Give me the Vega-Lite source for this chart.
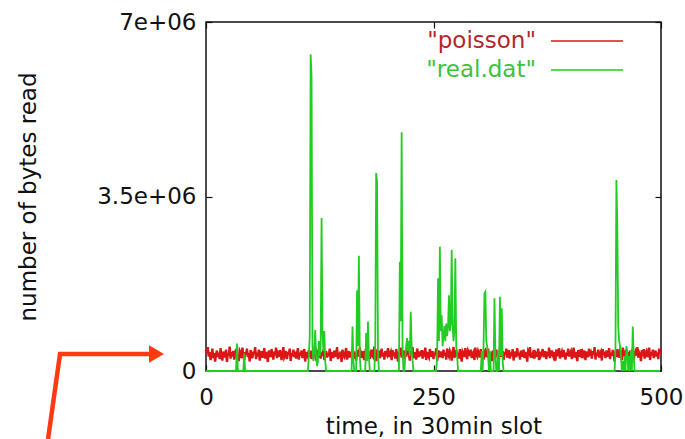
{
"$schema": "https://vega.github.io/schema/vega-lite/v6.json",
"width": 455, "height": 349,
"autosize": {"type": "none"},
"padding": {"left": 206, "top": 22, "right": 24, "bottom": 68},
"background": "white",
"config": {
  "view": {"stroke": "#111", "strokeWidth": 1.5},
  "font": "DejaVu Sans",
  "axis": {"labelFont": "DejaVu Sans", "titleFont": "DejaVu Sans", "labelFontSize": 23, "titleFontSize": 23, "titleFontWeight": "normal", "labelColor": "#111", "titleColor": "#111", "grid": false, "domain": false, "tickColor": "#111", "tickSize": -6, "tickWidth": 1.2, "labelFlush": false}
},
"datasets": {
"main": [
{"t":0,"poisson":4.2e5,"real":0},{"t":1,"poisson":3.5e5,"real":0},{"t":2,"poisson":4.8e5,"real":0},{"t":3,"poisson":2.9e5,"real":0},{"t":4,"poisson":3.8e5,"real":0},{"t":5,"poisson":2.2e5,"real":0},{"t":6,"poisson":3.1e5,"real":0},{"t":7,"poisson":4.5e5,"real":0},{"t":8,"poisson":2.6e5,"real":0},{"t":9,"poisson":3.6e5,"real":0},
{"t":10,"poisson":1.9e5,"real":0},{"t":11,"poisson":3.3e5,"real":0},{"t":12,"poisson":4.1e5,"real":0},{"t":13,"poisson":2.8e5,"real":0},{"t":14,"poisson":3.7e5,"real":0},{"t":15,"poisson":2.4e5,"real":0},{"t":16,"poisson":4.6e5,"real":0},{"t":17,"poisson":3.0e5,"real":0},{"t":18,"poisson":2.1e5,"real":0},{"t":19,"poisson":3.9e5,"real":0},
{"t":20,"poisson":3.4e5,"real":0},{"t":21,"poisson":2.7e5,"real":0},{"t":22,"poisson":4.3e5,"real":0},{"t":23,"poisson":1.8e5,"real":0},{"t":24,"poisson":3.6e5,"real":0},{"t":25,"poisson":3.1e5,"real":0},{"t":26,"poisson":4.9e5,"real":0},{"t":27,"poisson":2.5e5,"real":0},{"t":28,"poisson":3.8e5,"real":0},{"t":29,"poisson":2.9e5,"real":0},
{"t":30,"poisson":4.0e5,"real":0},{"t":31,"poisson":2.3e5,"real":0},{"t":32,"poisson":3.5e5,"real":0},{"t":33,"poisson":4.4e5,"real":0},{"t":34,"poisson":2.7e5,"real":5.5e5},{"t":35,"poisson":3.2e5,"real":0},{"t":36,"poisson":2.0e5,"real":0},{"t":37,"poisson":4.1e5,"real":0},{"t":38,"poisson":3.7e5,"real":0},{"t":39,"poisson":2.6e5,"real":0},
{"t":40,"poisson":4.7e5,"real":0},{"t":41,"poisson":3.0e5,"real":0},{"t":42,"poisson":2.2e5,"real":3.5e5},{"t":43,"poisson":3.8e5,"real":0},{"t":44,"poisson":3.3e5,"real":0},{"t":45,"poisson":4.5e5,"real":0},{"t":46,"poisson":2.8e5,"real":0},{"t":47,"poisson":3.6e5,"real":0},{"t":48,"poisson":1.9e5,"real":0},{"t":49,"poisson":4.2e5,"real":0},
{"t":50,"poisson":3.1e5,"real":0},{"t":51,"poisson":2.6e5,"real":0},{"t":52,"poisson":3.9e5,"real":0},{"t":53,"poisson":3.4e5,"real":0},{"t":54,"poisson":4.8e5,"real":0},{"t":55,"poisson":2.4e5,"real":0},{"t":56,"poisson":3.7e5,"real":0},{"t":57,"poisson":2.9e5,"real":0},{"t":58,"poisson":4.3e5,"real":0},{"t":59,"poisson":2.1e5,"real":0},
{"t":60,"poisson":3.5e5,"real":0},{"t":61,"poisson":4.0e5,"real":0},{"t":62,"poisson":2.7e5,"real":0},{"t":63,"poisson":3.2e5,"real":0},{"t":64,"poisson":4.6e5,"real":0},{"t":65,"poisson":2.5e5,"real":0},{"t":66,"poisson":3.8e5,"real":0},{"t":67,"poisson":3.0e5,"real":0},{"t":68,"poisson":1.8e5,"real":0},{"t":69,"poisson":4.1e5,"real":0},
{"t":70,"poisson":3.6e5,"real":0},{"t":71,"poisson":2.8e5,"real":0},{"t":72,"poisson":4.4e5,"real":0},{"t":73,"poisson":3.3e5,"real":0},{"t":74,"poisson":2.3e5,"real":0},{"t":75,"poisson":3.9e5,"real":0},{"t":76,"poisson":3.1e5,"real":0},{"t":77,"poisson":4.7e5,"real":0},{"t":78,"poisson":2.6e5,"real":0},{"t":79,"poisson":3.4e5,"real":0},
{"t":80,"poisson":2.9e5,"real":0},{"t":81,"poisson":4.2e5,"real":0},{"t":82,"poisson":3.7e5,"real":0},{"t":83,"poisson":2.2e5,"real":0},{"t":84,"poisson":3.5e5,"real":0},{"t":85,"poisson":4.8e5,"real":0},{"t":86,"poisson":2.7e5,"real":0},{"t":87,"poisson":3.1e5,"real":0},{"t":88,"poisson":4.0e5,"real":0},{"t":89,"poisson":2.4e5,"real":0},
{"t":90,"poisson":3.8e5,"real":0},{"t":91,"poisson":3.3e5,"real":0},{"t":92,"poisson":4.5e5,"real":0},{"t":93,"poisson":2.0e5,"real":0},{"t":94,"poisson":3.6e5,"real":0},{"t":95,"poisson":3.0e5,"real":0},{"t":96,"poisson":4.3e5,"real":0},{"t":97,"poisson":2.8e5,"real":0},{"t":98,"poisson":3.9e5,"real":0},{"t":99,"poisson":2.5e5,"real":0},
{"t":100,"poisson":3.4e5,"real":0},{"t":101,"poisson":4.6e5,"real":0},{"t":102,"poisson":2.3e5,"real":0},{"t":103,"poisson":3.7e5,"real":0},{"t":104,"poisson":3.1e5,"real":0},{"t":105,"poisson":4.1e5,"real":0},{"t":106,"poisson":2.6e5,"real":0},{"t":107,"poisson":3.5e5,"real":0},{"t":108,"poisson":4.4e5,"real":0},{"t":109,"poisson":1.9e5,"real":0},
{"t":110,"poisson":3.8e5,"real":0},{"t":111,"poisson":3.0e5,"real":0},{"t":112,"poisson":2.7e5,"real":0},{"t":113,"poisson":4.2e5,"real":3e5},{"t":114,"poisson":3.3e5,"real":7e5},{"t":115,"poisson":3.6e5,"real":6.35e6},{"t":116,"poisson":2.4e5,"real":5.9e6},{"t":117,"poisson":4.0e5,"real":5e5},{"t":118,"poisson":2.9e5,"real":2e5},{"t":119,"poisson":4.5e5,"real":4e5},
{"t":120,"poisson":3.2e5,"real":8.2e5},{"t":121,"poisson":2.1e5,"real":3e5},{"t":122,"poisson":3.9e5,"real":1e5},{"t":123,"poisson":3.5e5,"real":2e5},{"t":124,"poisson":2.8e5,"real":6e5},{"t":125,"poisson":4.7e5,"real":3e5},{"t":126,"poisson":2.5e5,"real":5e5},{"t":127,"poisson":3.7e5,"real":3.07e6},{"t":128,"poisson":3.1e5,"real":7.8e5},{"t":129,"poisson":4.3e5,"real":4e5},
{"t":130,"poisson":2.2e5,"real":8e5},{"t":131,"poisson":3.4e5,"real":2e5},{"t":132,"poisson":4.0e5,"real":0},{"t":133,"poisson":2.7e5,"real":0},{"t":134,"poisson":3.6e5,"real":0},{"t":135,"poisson":3.0e5,"real":0},{"t":136,"poisson":4.5e5,"real":0},{"t":137,"poisson":2.0e5,"real":0},{"t":138,"poisson":3.8e5,"real":0},{"t":139,"poisson":3.3e5,"real":0},
{"t":140,"poisson":2.6e5,"real":0},{"t":141,"poisson":4.1e5,"real":0},{"t":142,"poisson":3.5e5,"real":0},{"t":143,"poisson":2.9e5,"real":0},{"t":144,"poisson":4.8e5,"real":0},{"t":145,"poisson":2.4e5,"real":0},{"t":146,"poisson":3.7e5,"real":0},{"t":147,"poisson":3.2e5,"real":0},{"t":148,"poisson":3.9e5,"real":0},{"t":149,"poisson":1.8e5,"real":0},
{"t":150,"poisson":4.3e5,"real":0},{"t":151,"poisson":3.1e5,"real":0},{"t":152,"poisson":2.8e5,"real":0},{"t":153,"poisson":3.6e5,"real":0},{"t":154,"poisson":4.6e5,"real":0},{"t":155,"poisson":2.3e5,"real":0},{"t":156,"poisson":3.4e5,"real":0},{"t":157,"poisson":4.0e5,"real":0},{"t":158,"poisson":2.7e5,"real":0},{"t":159,"poisson":3.8e5,"real":0},
{"t":160,"poisson":3.0e5,"real":0},{"t":161,"poisson":4.4e5,"real":8.9e5},{"t":162,"poisson":2.5e5,"real":2e5},{"t":163,"poisson":3.6e5,"real":0},{"t":164,"poisson":3.3e5,"real":0},{"t":165,"poisson":2.1e5,"real":0},{"t":166,"poisson":4.2e5,"real":1.62e6},{"t":167,"poisson":3.7e5,"real":5e5},{"t":168,"poisson":2.9e5,"real":2.31e6},{"t":169,"poisson":4.7e5,"real":3e5},
{"t":170,"poisson":2.6e5,"real":0},{"t":171,"poisson":3.5e5,"real":0},{"t":172,"poisson":3.1e5,"real":0},{"t":173,"poisson":4.0e5,"real":0},{"t":174,"poisson":2.2e5,"real":0},{"t":175,"poisson":3.8e5,"real":0},{"t":176,"poisson":4.5e5,"real":7.6e5},{"t":177,"poisson":2.8e5,"real":2e5},{"t":178,"poisson":3.4e5,"real":9.9e5},{"t":179,"poisson":3.9e5,"real":3e5},
{"t":180,"poisson":2.4e5,"real":0},{"t":181,"poisson":3.6e5,"real":0},{"t":182,"poisson":4.3e5,"real":0},{"t":183,"poisson":3.0e5,"real":0},{"t":184,"poisson":2.7e5,"real":0},{"t":185,"poisson":4.9e5,"real":0},{"t":186,"poisson":3.3e5,"real":5e5},{"t":187,"poisson":2.0e5,"real":3.97e6},{"t":188,"poisson":3.8e5,"real":3.8e6},{"t":189,"poisson":3.5e5,"real":4e5},
{"t":190,"poisson":4.1e5,"real":0},{"t":191,"poisson":2.6e5,"real":0},{"t":192,"poisson":3.2e5,"real":0},{"t":193,"poisson":4.5e5,"real":0},{"t":194,"poisson":2.9e5,"real":0},{"t":195,"poisson":3.7e5,"real":0},{"t":196,"poisson":2.3e5,"real":0},{"t":197,"poisson":4.0e5,"real":0},{"t":198,"poisson":3.4e5,"real":0},{"t":199,"poisson":3.1e5,"real":0},
{"t":200,"poisson":4.6e5,"real":0},{"t":201,"poisson":2.8e5,"real":0},{"t":202,"poisson":3.5e5,"real":0},{"t":203,"poisson":3.9e5,"real":0},{"t":204,"poisson":2.2e5,"real":0},{"t":205,"poisson":4.2e5,"real":0},{"t":206,"poisson":3.0e5,"real":0},{"t":207,"poisson":3.7e5,"real":0},{"t":208,"poisson":2.5e5,"real":0},{"t":209,"poisson":4.4e5,"real":0},
{"t":210,"poisson":3.3e5,"real":0},{"t":211,"poisson":1.9e5,"real":0},{"t":212,"poisson":3.8e5,"real":0},{"t":213,"poisson":3.1e5,"real":2.19e6},{"t":214,"poisson":4.7e5,"real":1e6},{"t":215,"poisson":2.7e5,"real":4.79e6},{"t":216,"poisson":3.6e5,"real":4e5},{"t":217,"poisson":4.1e5,"real":0},{"t":218,"poisson":2.4e5,"real":0},{"t":219,"poisson":3.4e5,"real":3e5},
{"t":220,"poisson":2.9e5,"real":5e5},{"t":221,"poisson":4.3e5,"real":6.6e5},{"t":222,"poisson":3.7e5,"real":4e5},{"t":223,"poisson":3.2e5,"real":6e5},{"t":224,"poisson":2.1e5,"real":3e5},{"t":225,"poisson":4.0e5,"real":1.19e6},{"t":226,"poisson":3.5e5,"real":5e5},{"t":227,"poisson":4.8e5,"real":2e5},{"t":228,"poisson":2.6e5,"real":0},{"t":229,"poisson":3.1e5,"real":0},
{"t":230,"poisson":3.8e5,"real":0},{"t":231,"poisson":2.3e5,"real":0},{"t":232,"poisson":4.5e5,"real":0},{"t":233,"poisson":3.4e5,"real":0},{"t":234,"poisson":2.8e5,"real":0},{"t":235,"poisson":3.9e5,"real":0},{"t":236,"poisson":3.0e5,"real":0},{"t":237,"poisson":4.2e5,"real":0},{"t":238,"poisson":2.5e5,"real":0},{"t":239,"poisson":3.6e5,"real":0},
{"t":240,"poisson":3.3e5,"real":0},{"t":241,"poisson":4.7e5,"real":0},{"t":242,"poisson":2.2e5,"real":0},{"t":243,"poisson":3.8e5,"real":0},{"t":244,"poisson":3.1e5,"real":0},{"t":245,"poisson":2.7e5,"real":0},{"t":246,"poisson":4.4e5,"real":0},{"t":247,"poisson":3.5e5,"real":0},{"t":248,"poisson":2.9e5,"real":0},{"t":249,"poisson":4.0e5,"real":0},
{"t":250,"poisson":2.4e5,"real":0},{"t":251,"poisson":3.7e5,"real":0},{"t":252,"poisson":3.2e5,"real":0},{"t":253,"poisson":4.6e5,"real":0},{"t":254,"poisson":2.0e5,"real":3e5},{"t":255,"poisson":3.6e5,"real":1.86e6},{"t":256,"poisson":4.1e5,"real":6e5},{"t":257,"poisson":2.8e5,"real":2.49e6},{"t":258,"poisson":3.4e5,"real":8e5},{"t":259,"poisson":3.9e5,"real":1.12e6},
{"t":260,"poisson":2.6e5,"real":5e5},{"t":261,"poisson":4.3e5,"real":7e5},{"t":262,"poisson":3.1e5,"real":9e5},{"t":263,"poisson":3.7e5,"real":6e5},{"t":264,"poisson":2.3e5,"real":9.5e5},{"t":265,"poisson":4.5e5,"real":7e5},{"t":266,"poisson":3.4e5,"real":9e5},{"t":267,"poisson":2.9e5,"real":1.52e6},{"t":268,"poisson":4.0e5,"real":8e5},{"t":269,"poisson":3.5e5,"real":9.6e5},
{"t":270,"poisson":2.1e5,"real":2.43e6},{"t":271,"poisson":3.8e5,"real":9e5},{"t":272,"poisson":4.8e5,"real":6e5},{"t":273,"poisson":2.7e5,"real":8e5},{"t":274,"poisson":3.3e5,"real":2.26e6},{"t":275,"poisson":4.2e5,"real":5e5},{"t":276,"poisson":3.0e5,"real":3e5},{"t":277,"poisson":3.6e5,"real":0},{"t":278,"poisson":2.5e5,"real":0},{"t":279,"poisson":4.4e5,"real":0},
{"t":280,"poisson":3.2e5,"real":0},{"t":281,"poisson":1.9e5,"real":0},{"t":282,"poisson":3.9e5,"real":0},{"t":283,"poisson":3.5e5,"real":0},{"t":284,"poisson":2.8e5,"real":0},{"t":285,"poisson":4.6e5,"real":0},{"t":286,"poisson":3.1e5,"real":0},{"t":287,"poisson":2.4e5,"real":0},{"t":288,"poisson":4.1e5,"real":0},{"t":289,"poisson":3.7e5,"real":0},
{"t":290,"poisson":3.0e5,"real":0},{"t":291,"poisson":4.3e5,"real":0},{"t":292,"poisson":2.6e5,"real":0},{"t":293,"poisson":3.4e5,"real":0},{"t":294,"poisson":3.8e5,"real":0},{"t":295,"poisson":2.2e5,"real":0},{"t":296,"poisson":4.7e5,"real":0},{"t":297,"poisson":3.3e5,"real":0},{"t":298,"poisson":2.9e5,"real":0},{"t":299,"poisson":4.0e5,"real":0},
{"t":300,"poisson":3.5e5,"real":0},{"t":301,"poisson":2.7e5,"real":0},{"t":302,"poisson":4.4e5,"real":0},{"t":303,"poisson":3.1e5,"real":4e5},{"t":304,"poisson":3.6e5,"real":0},{"t":305,"poisson":2.3e5,"real":5e5},{"t":306,"poisson":3.9e5,"real":1.56e6},{"t":307,"poisson":4.2e5,"real":1.59e6},{"t":308,"poisson":2.8e5,"real":6e5},{"t":309,"poisson":3.3e5,"real":5e5},
{"t":310,"poisson":4.5e5,"real":3e5},{"t":311,"poisson":2.5e5,"real":0},{"t":312,"poisson":3.7e5,"real":4e5},{"t":313,"poisson":3.0e5,"real":0},{"t":314,"poisson":2.0e5,"real":0},{"t":315,"poisson":4.1e5,"real":0},{"t":316,"poisson":3.4e5,"real":0},{"t":317,"poisson":3.8e5,"real":1.46e6},{"t":318,"poisson":2.6e5,"real":3e5},{"t":319,"poisson":4.3e5,"real":0},
{"t":320,"poisson":3.1e5,"real":0},{"t":321,"poisson":3.6e5,"real":4e5},{"t":322,"poisson":2.4e5,"real":0},{"t":323,"poisson":4.7e5,"real":1.49e6},{"t":324,"poisson":2.9e5,"real":3e5},{"t":325,"poisson":3.5e5,"real":1.26e6},{"t":326,"poisson":4.0e5,"real":2e5},{"t":327,"poisson":2.2e5,"real":0},{"t":328,"poisson":3.8e5,"real":0},{"t":329,"poisson":3.3e5,"real":0},
{"t":330,"poisson":4.5e5,"real":0},{"t":331,"poisson":2.7e5,"real":0},{"t":332,"poisson":3.2e5,"real":0},{"t":333,"poisson":4.2e5,"real":0},{"t":334,"poisson":2.5e5,"real":0},{"t":335,"poisson":3.7e5,"real":0},{"t":336,"poisson":3.0e5,"real":0},{"t":337,"poisson":4.4e5,"real":0},{"t":338,"poisson":2.1e5,"real":0},{"t":339,"poisson":3.9e5,"real":0},
{"t":340,"poisson":3.4e5,"real":0},{"t":341,"poisson":2.8e5,"real":0},{"t":342,"poisson":4.6e5,"real":0},{"t":343,"poisson":3.1e5,"real":0},{"t":344,"poisson":3.7e5,"real":0},{"t":345,"poisson":2.3e5,"real":0},{"t":346,"poisson":4.1e5,"real":0},{"t":347,"poisson":3.5e5,"real":0},{"t":348,"poisson":2.9e5,"real":0},{"t":349,"poisson":4.3e5,"real":0},
{"t":350,"poisson":2.6e5,"real":0},{"t":351,"poisson":3.8e5,"real":0},{"t":352,"poisson":3.2e5,"real":0},{"t":353,"poisson":1.9e5,"real":0},{"t":354,"poisson":4.0e5,"real":0},{"t":355,"poisson":3.6e5,"real":0},{"t":356,"poisson":4.8e5,"real":0},{"t":357,"poisson":2.7e5,"real":0},{"t":358,"poisson":3.3e5,"real":0},{"t":359,"poisson":3.0e5,"real":0},
{"t":360,"poisson":4.2e5,"real":0},{"t":361,"poisson":2.5e5,"real":0},{"t":362,"poisson":3.7e5,"real":0},{"t":363,"poisson":3.4e5,"real":0},{"t":364,"poisson":2.9e5,"real":0},{"t":365,"poisson":4.5e5,"real":0},{"t":366,"poisson":2.2e5,"real":0},{"t":367,"poisson":3.9e5,"real":0},{"t":368,"poisson":3.1e5,"real":0},{"t":369,"poisson":3.6e5,"real":0},
{"t":370,"poisson":4.4e5,"real":0},{"t":371,"poisson":2.8e5,"real":0},{"t":372,"poisson":3.3e5,"real":0},{"t":373,"poisson":4.0e5,"real":0},{"t":374,"poisson":2.4e5,"real":0},{"t":375,"poisson":3.8e5,"real":0},{"t":376,"poisson":3.0e5,"real":0},{"t":377,"poisson":4.7e5,"real":0},{"t":378,"poisson":2.6e5,"real":0},{"t":379,"poisson":3.5e5,"real":0},
{"t":380,"poisson":4.1e5,"real":0},{"t":381,"poisson":3.2e5,"real":0},{"t":382,"poisson":2.7e5,"real":0},{"t":383,"poisson":3.8e5,"real":0},{"t":384,"poisson":2.1e5,"real":0},{"t":385,"poisson":4.3e5,"real":0},{"t":386,"poisson":3.5e5,"real":0},{"t":387,"poisson":3.0e5,"real":0},{"t":388,"poisson":4.6e5,"real":0},{"t":389,"poisson":2.5e5,"real":0},
{"t":390,"poisson":3.4e5,"real":0},{"t":391,"poisson":3.9e5,"real":0},{"t":392,"poisson":2.8e5,"real":0},{"t":393,"poisson":4.2e5,"real":0},{"t":394,"poisson":3.3e5,"real":0},{"t":395,"poisson":2.3e5,"real":0},{"t":396,"poisson":3.7e5,"real":0},{"t":397,"poisson":3.1e5,"real":0},{"t":398,"poisson":4.5e5,"real":0},{"t":399,"poisson":2.9e5,"real":0},
{"t":400,"poisson":3.6e5,"real":0},{"t":401,"poisson":4.0e5,"real":0},{"t":402,"poisson":2.4e5,"real":0},{"t":403,"poisson":3.3e5,"real":0},{"t":404,"poisson":4.7e5,"real":0},{"t":405,"poisson":2.7e5,"real":0},{"t":406,"poisson":3.8e5,"real":0},{"t":407,"poisson":3.1e5,"real":0},{"t":408,"poisson":2.0e5,"real":0},{"t":409,"poisson":4.2e5,"real":0},
{"t":410,"poisson":3.5e5,"real":0},{"t":411,"poisson":2.9e5,"real":0},{"t":412,"poisson":4.4e5,"real":0},{"t":413,"poisson":2.6e5,"real":0},{"t":414,"poisson":3.7e5,"real":0},{"t":415,"poisson":3.2e5,"real":0},{"t":416,"poisson":4.1e5,"real":0},{"t":417,"poisson":2.2e5,"real":0},{"t":418,"poisson":3.9e5,"real":0},{"t":419,"poisson":3.4e5,"real":0},
{"t":420,"poisson":2.8e5,"real":0},{"t":421,"poisson":4.5e5,"real":0},{"t":422,"poisson":3.1e5,"real":0},{"t":423,"poisson":3.6e5,"real":0},{"t":424,"poisson":2.5e5,"real":0},{"t":425,"poisson":4.0e5,"real":0},{"t":426,"poisson":3.3e5,"real":0},{"t":427,"poisson":4.8e5,"real":0},{"t":428,"poisson":2.3e5,"real":0},{"t":429,"poisson":3.7e5,"real":0},
{"t":430,"poisson":3.0e5,"real":0},{"t":431,"poisson":4.3e5,"real":0},{"t":432,"poisson":2.7e5,"real":0},{"t":433,"poisson":3.5e5,"real":0},{"t":434,"poisson":3.9e5,"real":0},{"t":435,"poisson":2.1e5,"real":0},{"t":436,"poisson":4.4e5,"real":0},{"t":437,"poisson":3.2e5,"real":0},{"t":438,"poisson":3.8e5,"real":0},{"t":439,"poisson":2.6e5,"real":0},
{"t":440,"poisson":4.1e5,"real":0},{"t":441,"poisson":3.4e5,"real":0},{"t":442,"poisson":2.9e5,"real":0},{"t":443,"poisson":4.6e5,"real":0},{"t":444,"poisson":2.4e5,"real":0},{"t":445,"poisson":3.7e5,"real":0},{"t":446,"poisson":3.1e5,"real":0},{"t":447,"poisson":4.2e5,"real":0},{"t":448,"poisson":3.5e5,"real":0},{"t":449,"poisson":1.9e5,"real":0},
{"t":450,"poisson":3.9e5,"real":5e5},{"t":451,"poisson":2.8e5,"real":3.83e6},{"t":452,"poisson":4.4e5,"real":2.93e6},{"t":453,"poisson":3.3e5,"real":9e5},{"t":454,"poisson":2.7e5,"real":6e5},{"t":455,"poisson":4.0e5,"real":5e5},{"t":456,"poisson":3.6e5,"real":3e5},{"t":457,"poisson":2.2e5,"real":0},{"t":458,"poisson":4.7e5,"real":2e5},{"t":459,"poisson":3.0e5,"real":0},
{"t":460,"poisson":3.5e5,"real":3e5},{"t":461,"poisson":2.6e5,"real":0},{"t":462,"poisson":4.3e5,"real":5e5},{"t":463,"poisson":3.2e5,"real":4e5},{"t":464,"poisson":3.8e5,"real":0},{"t":465,"poisson":2.4e5,"real":3e5},{"t":466,"poisson":4.1e5,"real":0},{"t":467,"poisson":2.9e5,"real":4e5},{"t":468,"poisson":3.6e5,"real":0},{"t":469,"poisson":4.5e5,"real":8.9e5},
{"t":470,"poisson":2.3e5,"real":3e5},{"t":471,"poisson":3.4e5,"real":0},{"t":472,"poisson":3.9e5,"real":0},{"t":473,"poisson":3.1e5,"real":0},{"t":474,"poisson":4.8e5,"real":0},{"t":475,"poisson":2.7e5,"real":0},{"t":476,"poisson":3.7e5,"real":0},{"t":477,"poisson":3.3e5,"real":0},{"t":478,"poisson":2.0e5,"real":0},{"t":479,"poisson":4.2e5,"real":0},
{"t":480,"poisson":3.0e5,"real":0},{"t":481,"poisson":4.4e5,"real":0},{"t":482,"poisson":2.5e5,"real":0},{"t":483,"poisson":3.6e5,"real":0},{"t":484,"poisson":4.0e5,"real":0},{"t":485,"poisson":2.8e5,"real":0},{"t":486,"poisson":3.4e5,"real":0},{"t":487,"poisson":4.7e5,"real":0},{"t":488,"poisson":2.2e5,"real":0},{"t":489,"poisson":3.8e5,"real":0},
{"t":490,"poisson":3.1e5,"real":0},{"t":491,"poisson":4.3e5,"real":0},{"t":492,"poisson":2.6e5,"real":0},{"t":493,"poisson":3.5e5,"real":0},{"t":494,"poisson":4.1e5,"real":0},{"t":495,"poisson":2.9e5,"real":0},{"t":496,"poisson":3.7e5,"real":0},{"t":497,"poisson":2.4e5,"real":0},{"t":498,"poisson":4.5e5,"real":0},{"t":499,"poisson":3.3e5,"real":0}
],
"arrow": [
{"t":-173.6,"v":-1364000,"k":0},{"t":-160.4,"v":341000,"k":1},{"t":-61.5,"v":341000,"k":2}
],
"head": [
{"t":-54.4,"v":341000}
]
},
"layer": [
{
  "data": {"name": "main"},
  "transform": [{"fold": ["poisson"], "as": ["series", "bytes"]}],
  "mark": {"type": "line", "strokeWidth": 2.4},
  "encoding": {
    "x": {"field": "t", "type": "quantitative", "scale": {"domain": [0, 500], "nice": false, "zero": false},
      "axis": {"orient": "bottom", "values": [0, 250, 500], "title": "time, in 30min slot", "labelPadding": 21, "titlePadding": 6}},
    "y": {"field": "bytes", "type": "quantitative", "scale": {"domain": [0, 7000000], "nice": false, "zero": false},
      "axis": {"orient": "left", "values": [0, 3500000, 7000000], "labelExpr": "datum.value == 0 ? '0' : datum.value == 3500000 ? '3.5e+06' : '7e+06'", "title": "number of bytes read", "labelPadding": 16, "titlePadding": 56}},
    "color": {"field": "series", "type": "nominal", "scale": {"domain": ["poisson", "real"], "range": ["#dc1616", "#22cc22"]},
      "legend": {"orient": "top-right", "title": null, "offset": 6, "padding": 0, "symbolType": "M-3,0H3M5.4,0", "symbolSize": 576, "symbolStrokeWidth": 1.5, "labelFont": "DejaVu Sans", "labelFontSize": 23, "labelAlign": "right", "labelOffset": -64, "rowPadding": 4,
        "labelExpr": "datum.label == 'poisson' ? '\"poisson\"' : '\"real.dat\"'",
        "encode": {"labels": {"update": {"fill": {"signal": "datum.value == 'poisson' ? '#b3262a' : '#3cc23c'"}}}}}}
  }
},
{
  "data": {"name": "main"},
  "transform": [{"fold": ["real"], "as": ["series", "bytes"]}],
  "mark": {"type": "line", "strokeWidth": 1.8},
  "encoding": {
    "x": {"field": "t", "type": "quantitative", "scale": {"domain": [0, 500], "nice": false, "zero": false},
      "axis": {"orient": "top", "values": [0, 250, 500], "labels": false, "title": null}},
    "y": {"field": "bytes", "type": "quantitative", "scale": {"domain": [0, 7000000], "nice": false, "zero": false},
      "axis": {"orient": "right", "values": [0, 3500000, 7000000], "labels": false, "title": null}},
    "color": {"field": "series", "type": "nominal", "scale": {"domain": ["poisson", "real"], "range": ["#dc1616", "#22cc22"]},
      "legend": {"orient": "top-right", "title": null, "offset": 6, "padding": 0, "symbolType": "M-3,0H3M5.4,0", "symbolSize": 576, "symbolStrokeWidth": 1.5, "labelFont": "DejaVu Sans", "labelFontSize": 23, "labelAlign": "right", "labelOffset": -64, "rowPadding": 4,
        "labelExpr": "datum.label == 'poisson' ? '\"poisson\"' : '\"real.dat\"'",
        "encode": {"labels": {"update": {"fill": {"signal": "datum.value == 'poisson' ? '#b3262a' : '#3cc23c'"}}}}}}
  }
},
{
  "data": {"name": "arrow"},
  "mark": {"type": "line", "strokeWidth": 4.5, "color": "#ff3a12", "clip": false},
  "encoding": {
    "x": {"field": "t", "type": "quantitative", "scale": {"domain": [0, 500], "nice": false, "zero": false}, "axis": null},
    "y": {"field": "v", "type": "quantitative", "scale": {"domain": [0, 7000000], "nice": false, "zero": false}, "axis": null},
    "order": {"field": "k"}
  }
},
{
  "data": {"name": "head"},
  "mark": {"type": "point", "shape": "triangle-right", "filled": true, "size": 300, "opacity": 1, "color": "#ff3a12", "clip": false},
  "encoding": {
    "x": {"field": "t", "type": "quantitative", "scale": {"domain": [0, 500], "nice": false, "zero": false}, "axis": null},
    "y": {"field": "v", "type": "quantitative", "scale": {"domain": [0, 7000000], "nice": false, "zero": false}, "axis": null}
  }
}
],
"resolve": {"axis": {"x": "independent", "y": "independent"}}
}
